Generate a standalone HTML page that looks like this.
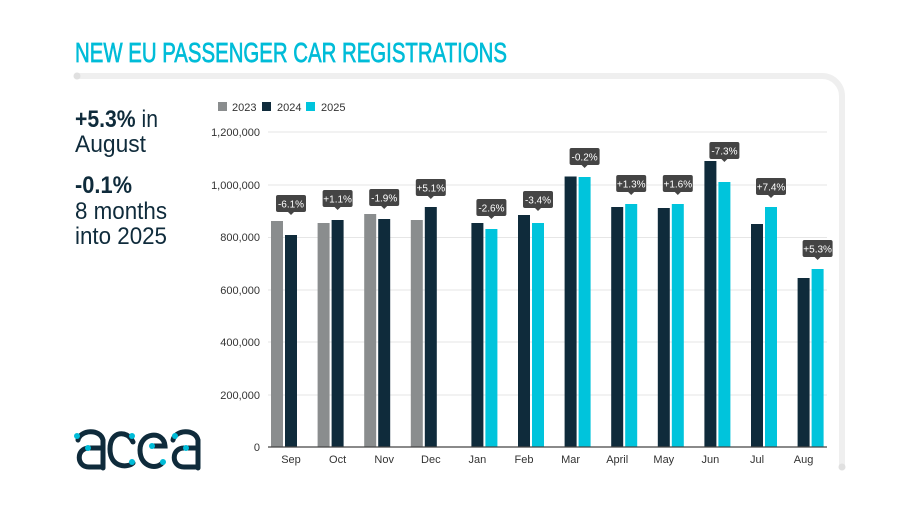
<!DOCTYPE html>
<html><head><meta charset="utf-8"><style>
html,body{margin:0;padding:0;background:#fff;}
svg{display:block;font-family:"Liberation Sans",sans-serif;}
</style></head><body>
<svg width="900" height="507" viewBox="0 0 900 507" xmlns="http://www.w3.org/2000/svg">
<path d="M77 76 H822 A20 20 0 0 1 842 96 V466" fill="none" stroke="#efefef" stroke-width="6" stroke-linecap="round"/>
<circle cx="77" cy="76" r="3.5" fill="#e0e0e0"/>
<circle cx="842" cy="467" r="3.5" fill="#e0e0e0"/>
<text x="75" y="62" font-size="28" fill="#00bcd8" stroke="#00bcd8" stroke-width="0.7" textLength="432" lengthAdjust="spacingAndGlyphs">NEW EU PASSENGER CAR REGISTRATIONS</text>
<g fill="#0f2b3b" font-size="24">
<text x="75" y="127" textLength="83" lengthAdjust="spacingAndGlyphs"><tspan font-weight="bold">+5.3%</tspan> in</text>
<text x="75" y="152" textLength="71" lengthAdjust="spacingAndGlyphs">August</text>
<text x="75" y="193" font-weight="bold" textLength="57" lengthAdjust="spacingAndGlyphs">-0.1%</text>
<text x="75" y="219" textLength="92" lengthAdjust="spacingAndGlyphs">8 months</text>
<text x="75" y="244" textLength="92" lengthAdjust="spacingAndGlyphs">into 2025</text>
</g>
<g fill="none" stroke="#0f2b3b" stroke-width="5" stroke-linecap="round">
<path d="M78 440 C80 430 100 428 103 440 V468"/>
<path d="M103 448 H89 C76 448 76 467 89 467 H103"/>
<path d="M133 442 C128 430 110 430 110 449 C110 468 128 468 133 463"/>
<path d="M163 462 C158 470 140 468 140 450 C140 432 164 430 165 446 H153"/>
<path d="M173 440 C175 430 195 428 198 440 V468"/>
<path d="M198 448 H184 C171 448 171 467 184 467 H198"/>
</g>
<g fill="#00bcd8"><circle cx="77" cy="436" r="3"/><circle cx="88" cy="448" r="3"/><circle cx="132" cy="436" r="3"/><circle cx="132" cy="462" r="3"/><circle cx="152" cy="446" r="3"/><circle cx="163" cy="462" r="3"/><circle cx="175" cy="436" r="3"/><circle cx="186" cy="448" r="3"/></g>
<g font-size="11" fill="#333">
<rect x="218" y="102" width="9" height="9" fill="#8a8d8e"/><text x="232" y="111">2023</text>
<rect x="262" y="102" width="9" height="9" fill="#0f2b3b"/><text x="277" y="111">2024</text>
<rect x="306" y="102" width="9" height="9" fill="#00c4dc"/><text x="321" y="111">2025</text>
</g>
<g stroke="#e6e6e6" stroke-width="1">
<line x1="268" x2="827" y1="132" y2="132"/><line x1="268" x2="827" y1="185" y2="185"/>
<line x1="268" x2="827" y1="237.5" y2="237.5"/><line x1="268" x2="827" y1="290" y2="290"/>
<line x1="268" x2="827" y1="342" y2="342"/><line x1="268" x2="827" y1="395" y2="395"/>
</g>
<g font-size="11" fill="#333" text-anchor="end">
<text x="260" y="136">1,200,000</text><text x="260" y="189">1,000,000</text>
<text x="260" y="241">800,000</text><text x="260" y="294">600,000</text>
<text x="260" y="346">400,000</text><text x="260" y="399">200,000</text>
<text x="260" y="451">0</text>
</g>
<g>
<rect x="271" y="221" width="12" height="226" fill="#8a8d8e"/><rect x="285" y="235" width="12" height="212" fill="#0f2b3b"/>
<rect x="317.6" y="223" width="12" height="224" fill="#8a8d8e"/><rect x="331.6" y="220" width="12" height="227" fill="#0f2b3b"/>
<rect x="364.2" y="214" width="12" height="233" fill="#8a8d8e"/><rect x="378.2" y="219" width="12" height="228" fill="#0f2b3b"/>
<rect x="410.8" y="220" width="12" height="227" fill="#8a8d8e"/><rect x="424.8" y="207" width="12" height="240" fill="#0f2b3b"/>
<rect x="471.4" y="223" width="12" height="224" fill="#0f2b3b"/><rect x="485.4" y="229" width="12" height="218" fill="#00c4dc"/>
<rect x="518" y="215" width="12" height="232" fill="#0f2b3b"/><rect x="532" y="223" width="12" height="224" fill="#00c4dc"/>
<rect x="564.6" y="176.5" width="12" height="270.5" fill="#0f2b3b"/><rect x="578.6" y="177" width="12" height="270" fill="#00c4dc"/>
<rect x="611.2" y="207" width="12" height="240" fill="#0f2b3b"/><rect x="625.2" y="204" width="12" height="243" fill="#00c4dc"/>
<rect x="657.8" y="208" width="12" height="239" fill="#0f2b3b"/><rect x="671.8" y="204" width="12" height="243" fill="#00c4dc"/>
<rect x="704.4" y="161" width="12" height="286" fill="#0f2b3b"/><rect x="718.4" y="182" width="12" height="265" fill="#00c4dc"/>
<rect x="751" y="224" width="12" height="223" fill="#0f2b3b"/><rect x="765" y="207" width="12" height="240" fill="#00c4dc"/>
<rect x="797.6" y="278" width="12" height="169" fill="#0f2b3b"/><rect x="811.6" y="269" width="12" height="178" fill="#00c4dc"/>
</g>
<line x1="268" x2="827" y1="447" y2="447" stroke="#444" stroke-width="1.2"/>
<g font-size="11" fill="#333" text-anchor="middle">
<text x="291" y="463">Sep</text><text x="337.6" y="463">Oct</text><text x="384.2" y="463">Nov</text><text x="430.8" y="463">Dec</text>
<text x="477.4" y="463">Jan</text><text x="524" y="463">Feb</text><text x="570.6" y="463">Mar</text><text x="617.2" y="463">April</text>
<text x="663.8" y="463">May</text><text x="710.4" y="463">Jun</text><text x="757" y="463">Jul</text><text x="803.6" y="463">Aug</text>
</g>
<g font-size="10" fill="#fff" text-anchor="middle">
<g transform="translate(291,204)"><rect x="-15" y="-9" width="30" height="17" rx="2" fill="#444"/><path d="M-3 8 L0 11 L3 8Z" fill="#444"/><text y="3.5">-6.1%</text></g>
<g transform="translate(337.6,199)"><rect x="-15" y="-9" width="30" height="17" rx="2" fill="#444"/><path d="M-3 8 L0 11 L3 8Z" fill="#444"/><text y="3.5">+1.1%</text></g>
<g transform="translate(384.2,198)"><rect x="-15" y="-9" width="30" height="17" rx="2" fill="#444"/><path d="M-3 8 L0 11 L3 8Z" fill="#444"/><text y="3.5">-1.9%</text></g>
<g transform="translate(430.8,188)"><rect x="-15" y="-9" width="30" height="17" rx="2" fill="#444"/><path d="M-3 8 L0 11 L3 8Z" fill="#444"/><text y="3.5">+5.1%</text></g>
<g transform="translate(491.4,208)"><rect x="-15" y="-9" width="30" height="17" rx="2" fill="#444"/><path d="M-3 8 L0 11 L3 8Z" fill="#444"/><text y="3.5">-2.6%</text></g>
<g transform="translate(538,200)"><rect x="-15" y="-9" width="30" height="17" rx="2" fill="#444"/><path d="M-3 8 L0 11 L3 8Z" fill="#444"/><text y="3.5">-3.4%</text></g>
<g transform="translate(584.6,157)"><rect x="-15" y="-9" width="30" height="17" rx="2" fill="#444"/><path d="M-3 8 L0 11 L3 8Z" fill="#444"/><text y="3.5">-0.2%</text></g>
<g transform="translate(631.2,184)"><rect x="-15" y="-9" width="30" height="17" rx="2" fill="#444"/><path d="M-3 8 L0 11 L3 8Z" fill="#444"/><text y="3.5">+1.3%</text></g>
<g transform="translate(677.8,184)"><rect x="-15" y="-9" width="30" height="17" rx="2" fill="#444"/><path d="M-3 8 L0 11 L3 8Z" fill="#444"/><text y="3.5">+1.6%</text></g>
<g transform="translate(724.4,151)"><rect x="-15" y="-9" width="30" height="17" rx="2" fill="#444"/><path d="M-3 8 L0 11 L3 8Z" fill="#444"/><text y="3.5">-7.3%</text></g>
<g transform="translate(771,187)"><rect x="-15" y="-9" width="30" height="17" rx="2" fill="#444"/><path d="M-3 8 L0 11 L3 8Z" fill="#444"/><text y="3.5">+7.4%</text></g>
<g transform="translate(817.6,249)"><rect x="-15" y="-9" width="30" height="17" rx="2" fill="#444"/><path d="M-3 8 L0 11 L3 8Z" fill="#444"/><text y="3.5">+5.3%</text></g>
</g>
</svg>
</body></html>
